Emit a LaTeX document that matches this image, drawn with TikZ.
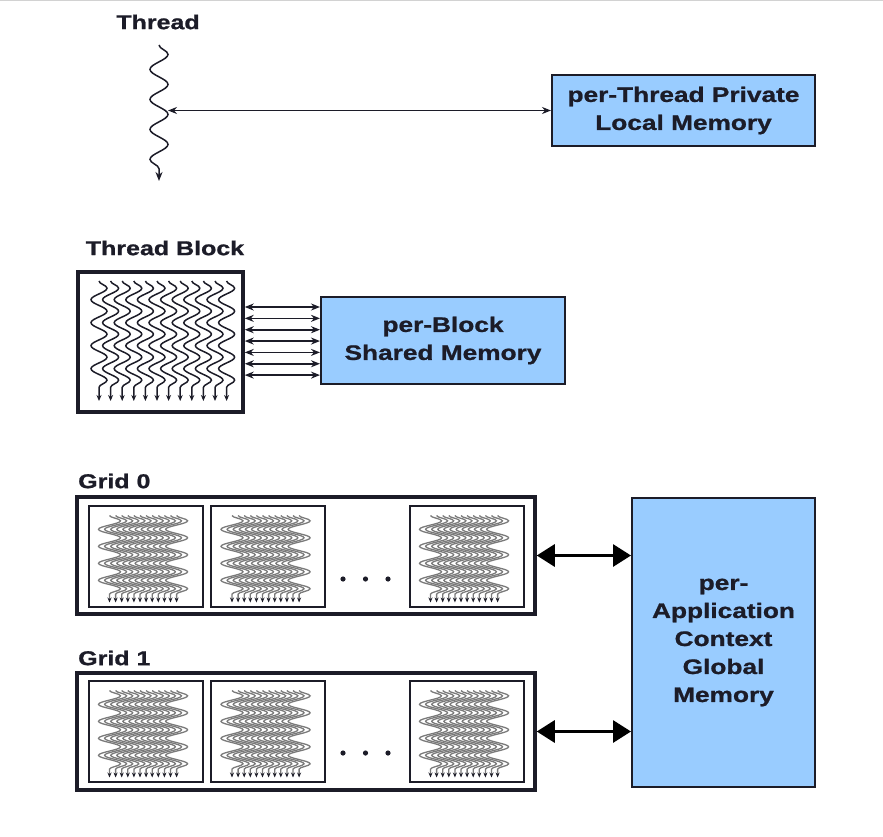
\documentclass[tikz,border=0pt]{standalone}
\usepackage{fontspec}
\setmainfont{Liberation Sans}[FakeStretch=1.25, BoldFeatures={FakeBold=1}]
\usetikzlibrary{decorations.pathmorphing,arrows.meta}
\definecolor{memblue}{HTML}{99CCFF}
\definecolor{edgec}{HTML}{1C1C28}
\begin{document}
\begin{tikzpicture}[x=1pt,y=-1pt,
  lbl/.style={font=\bfseries\fontsize{20}{24}\selectfont, inner sep=0pt, text=edgec},
  membox/.style={draw=edgec, line width=2pt, fill=memblue, align=center, inner sep=0pt,
    text=edgec, font=\bfseries\fontsize{21}{28}\selectfont},
  frame/.style={draw=edgec, line width=3.5pt, inner sep=0pt},
  blk/.style={draw=edgec, line width=2pt, inner sep=0pt},
  onethread/.style={decorate, decoration={snake, amplitude=9pt, segment length=30pt, post length=7pt},
    line width=1.5pt, draw=edgec, -{Stealth[length=9pt,width=7pt]}},
  bthread/.style={decorate, decoration={snake, amplitude=8pt, segment length=23pt, post length=6pt},
    line width=1.5pt, draw=edgec, -{Stealth[length=6pt,width=5pt]}},
  gthread/.style={decorate, decoration={snake, amplitude=11pt, segment length=17pt, post length=5pt},
    line width=1.3pt, draw=black!52, -{Stealth[length=5pt,width=4pt,color=edgec]}},
  thinarrow/.style={line width=1.6pt, draw=edgec,
    {Stealth[length=9pt,width=7pt]}-{Stealth[length=9pt,width=7pt]}},
  bigarrow/.style={line width=3pt, draw=black,
    {Triangle[length=18pt,width=22pt]}-{Triangle[length=18pt,width=22pt]}},
  gblk/.pic={
    \node[blk, minimum width=114pt, minimum height=101pt] (-box) at (0,0) {};
    \foreach \i in {0,...,11} {
      \draw[gthread] (-36+\i*6.1,-41) -- (-36+\i*6.1,46);
    }
  }
]
\useasboundingbox (0,0) rectangle (883,837);
\draw[gray!35, line width=1pt] (0,1) -- (883,1);

% ---- single thread ----
\node[lbl] (threadlbl) at (158,22) {Thread};
\coordinate (ttop) at (159,45);
\coordinate (tbot) at (159,181);
\draw[onethread] (ttop) -- (tbot);
\node[membox, minimum width=263pt, minimum height=71pt] (local) at (683.5,110.5)
  {per-Thread Private\\Local Memory};
\coordinate (tmid) at (168,110.5);
\draw[thinarrow] (tmid) -- (local.west);

% ---- thread block ----
\node[lbl] (blocklbl) at (165,248) {Thread Block};
\node[frame, minimum width=165pt, minimum height=140pt] (tb) at (160.5,342) {};
\foreach \i in {0,...,11} {
  \draw[bthread] (99+\i*11.6,281) -- (99+\i*11.6,401);
}
\node[membox, minimum width=244pt, minimum height=87pt] (shared) at (443,340.5)
  {per-Block\\Shared Memory};
\foreach \k in {0,...,6} {
  \coordinate (r\k) at (0,307+\k*11.35);
  \draw[thinarrow] (tb.east |- r\k) -- (shared.west |- r\k);
}

% ---- grids ----
\node[lbl, anchor=west] (g0lbl) at (78,481) {Grid 0};
\node[frame, minimum width=458pt, minimum height=117pt] (grid0) at (306,555.5) {};
\pic (g0a) at (145.5,556.5) {gblk};
\pic (g0b) at (268,556.5) {gblk};
\pic (g0c) at (466.5,556.5) {gblk};
\fill[edgec] (343,579) circle (2.6) (365.5,579) circle (2.6) (388,579) circle (2.6);

\node[lbl, anchor=west] (g1lbl) at (78,658) {Grid 1};
\node[frame, minimum width=458pt, minimum height=117pt] (grid1) at (306,731.5) {};
\pic (g1a) at (145.5,731.5) {gblk};
\pic (g1b) at (268,731.5) {gblk};
\pic (g1c) at (466.5,731.5) {gblk};
\fill[edgec] (343,753) circle (2.6) (365.5,753) circle (2.6) (388,753) circle (2.6);

\node[membox, minimum width=183pt, minimum height=289pt] (global) at (723.5,642.5)
  {per-\\Application\\Context\\Global\\Memory};

\draw[bigarrow] (grid0.east) -- (global.west |- grid0.east);
\draw[bigarrow] (grid1.east) -- (global.west |- grid1.east);
\end{tikzpicture}
\end{document}
